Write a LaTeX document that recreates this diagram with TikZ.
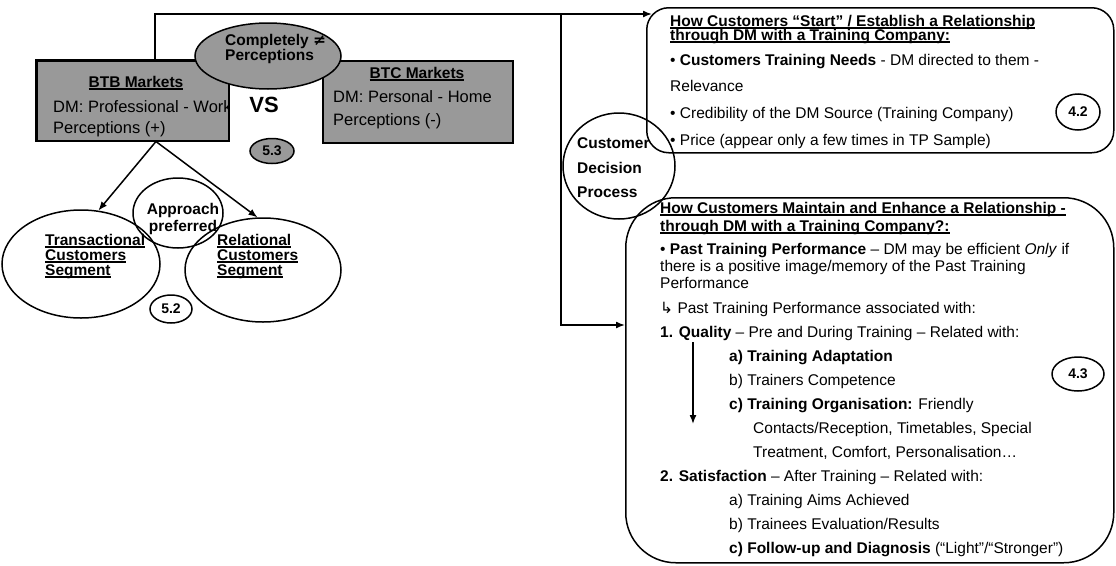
\documentclass[tikz,border=0pt]{standalone}
\usepackage{fontspec}
\setmainfont{Liberation Sans}
\newfontfamily\symfont{DejaVu Sans}
\usetikzlibrary{arrows.meta,calc,shapes.geometric}
% thick underline for headings
\newcommand\undl[1]{\setbox0\hbox{#1}\rlap{\rule[-2.6pt]{\wd0}{1.2pt}}\box0}

\begin{document}
\begin{tikzpicture}[x=1pt,y=-1pt,
  every node/.style={inner sep=0pt},
  ln/.style={line width=1.5pt},
  gbox/.style={draw, line width=1.5pt, fill=black!40, rectangle, anchor=north west},
  rbox/.style={draw, line width=1.5pt, rectangle, anchor=north west},
  oval/.style={draw, ellipse, line width=1.5pt},
  goval/.style={oval, fill=black!40},
  body/.style={anchor=base west, font=\fontsize{15.5}{18}\selectfont},
  bbody/.style={anchor=base west, font=\bfseries\fontsize{15.5}{18}\selectfont},
  head/.style={anchor=base, font=\bfseries\fontsize{15.5}{18}\selectfont},
  mkt/.style={anchor=base west, font=\fontsize{16.5}{18}\selectfont},
  tag/.style={font=\bfseries\fontsize{14}{16}\selectfont},
  arr/.style={line width=1.5pt, -{Latex[length=9pt,width=7pt]}},
]
\useasboundingbox (0,0) rectangle (1116,565);

% ---------- market boxes ----------
\node[gbox, minimum width=192pt, minimum height=80pt] (btb) at (36,60) {};
\node[gbox, minimum width=190pt, minimum height=82pt] (btc) at (322,60) {};

\begin{scope}
  \clip (btb.north west) rectangle (btb.south east);
  \node[head] (btbt) at (136,87) {\undl{BTB Markets}};
  \node[mkt] (btb1) at (53,112) {DM: Professional - Work};
  \node[mkt] (btb2) at (53,133) {Perceptions (+)};
\end{scope}
\draw[line width=1.5pt] (btb.north west) rectangle (btb.south east);

\node[goval, minimum width=146pt, minimum height=66pt] (cp) at (268,56) {};

\node[head] (btct) at (417,78) {\undl{BTC Markets}};
\node[mkt] (btc1) at (333,102) {DM: Personal - Home};
\node[mkt] (btc2) at (333,125) {Perceptions (-)};

\node[bbody] (cp1) at (225,45) {Completely {\symfont ≠}};
\node[bbody] (cp2) at (225,60) {Perceptions};

\node[font=\bfseries\fontsize{22}{24}\selectfont] (vs) at (264,105) {VS};
\node[goval, minimum width=44pt, minimum height=25pt, tag] (n53) at (272,151) {5.3};

% ---------- customer segments ----------
\node[oval, minimum width=158pt, minimum height=108pt] (tr) at (81,264) {};
\node[oval, minimum width=156pt, minimum height=104pt] (rel) at (263,270) {};
\node[oval, minimum width=90pt, minimum height=70pt] (ap) at (178,213) {};

\node[bbody] (tr1) at (45,245) {\undl{Transactional}};
\node[bbody] (tr2) at (45,260) {\undl{Customers}};
\node[bbody] (tr3) at (45,275) {\undl{Segment}};
\node[bbody] (re1) at (217,245) {\undl{Relational}};
\node[bbody] (re2) at (217,260) {\undl{Customers}};
\node[bbody] (re3) at (217,275) {\undl{Segment}};
\node[head] (ap1) at (183,214) {Approach};
\node[head] (ap2) at (183,231) {preferred};

\node[oval, minimum width=42pt, minimum height=28pt, tag] (n52) at (171,309) {5.2};

\coordinate (bs) at ($(btb.south west)!0.62!(btb.south east)$);
\draw[arr] (bs) -- (tr.72);
\draw[arr] (bs) -- (rel.96);

% ---------- relationship boxes ----------
\node[rbox, rounded corners=22pt, minimum width=467pt, minimum height=145pt] (b42) at (646,7) {};
\node[rbox, rounded corners=50pt, minimum width=488pt, minimum height=365pt] (b43) at (625,197) {};
\node[oval, minimum width=112pt, minimum height=106pt] (cdp) at (619,166) {};

\node[bbody] (cd1) at (577,148) {Customer};
\node[bbody] (cd2) at (577,173) {Decision};
\node[bbody] (cd3) at (577,197) {Process};

% connectors from the market boxes
\coordinate (bn) at ($(btb.north west)!0.615!(btb.north east)$);
\coordinate (j) at (561,14);
\coordinate (t42) at (652,14);
\coordinate (k) at (561,325);
\draw[arr] (bn) |- (t42);
\draw[arr] (j) -- (k) -- (k -| b43.west);

% establish a relationship
\node[bbody] (s1) at (670,26) {\undl{How Customers “Start” / Establish a Relationship}};
\node[bbody] (s2) at (670,40) {\undl{through DM with a Training Company:}};
\node[body] (s3) at (670,65) {• \textbf{Customers Training Needs} - DM directed to them -};
\node[body] (s4) at (670,91) {Relevance};
\node[body] (s5) at (670,118) {• Credibility of the DM Source (Training Company)};
\node[body] (s6) at (670,145) {• Price (appear only a few times in TP Sample)};
\node[oval, minimum width=44pt, minimum height=36pt, tag] (n42) at (1078,112) {4.2};

% maintain and enhance a relationship
\node[bbody] (m1) at (660,213) {\undl{How Customers Maintain and Enhance a Relationship -}};
\node[bbody] (m2) at (660,231) {\undl{through DM with a Training Company?:}};
\node[body] (m3) at (660,254) {• \textbf{Past Training Performance} – DM may be efficient \textit{Only} if};
\node[body] (m4) at (660,271) {there is a positive image/memory of the Past Training};
\node[body] (m5) at (660,288) {Performance};
\node[body] (m6) at (660,313) {{\symfont ↳} Past Training Performance associated with:};
\node[body] (m7) at (660,337) {\textbf{1. Quality} – Pre and During Training – Related with:};
\node[body] (m8) at (729,361) {\textbf{a) Training Adaptation}};
\node[body] (m9) at (729,385) {b) Trainers Competence};
\node[body] (m10) at (729,409) {\textbf{c) Training Organisation:} Friendly};
\node[body] (m11) at (753,433) {Contacts/Reception, Timetables, Special};
\node[body] (m12) at (753,457) {Treatment, Comfort, Personalisation…};
\node[body] (m13) at (660,481) {\textbf{2. Satisfaction} – After Training – Related with:};
\node[body] (m14) at (729,505) {a) Training Aims Achieved};
\node[body] (m15) at (729,529) {b) Trainees Evaluation/Results};
\node[body] (m16) at (729,553) {\textbf{c) Follow-up and Diagnosis} (“Light”/“Stronger”)};
\node[oval, minimum width=52pt, minimum height=34pt, tag] (n43) at (1078,374) {4.3};

\coordinate (q1) at (693,342);
\coordinate (q2) at (693,424);
\draw[arr] (q1) -- (q2);
\end{tikzpicture}
\end{document}
